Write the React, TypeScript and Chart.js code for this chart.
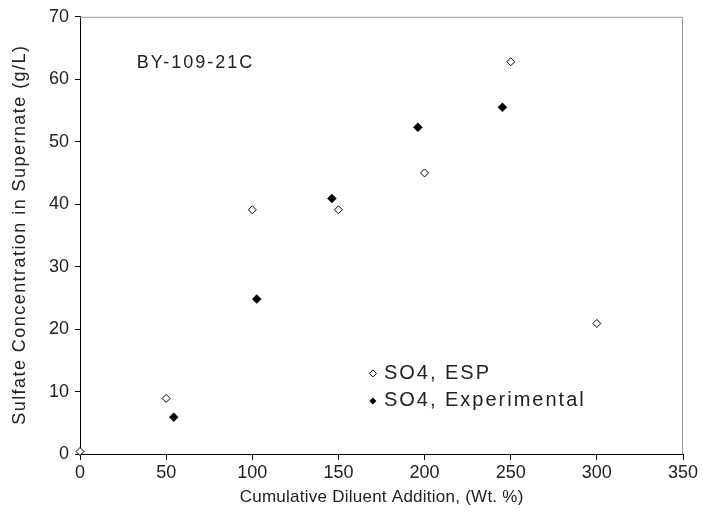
import React, { useEffect, useRef } from "react";
import { Chart, registerables } from "chart.js";

Chart.register(...registerables);

const espX = [0, 50, 100, 150, 200, 250, 300];
const espY = [0.4, 8.9, 39.1, 39.1, 45.0, 62.8, 20.9];
const expX = [54.4, 102.6, 146.2, 196.1, 245.2];
const expY = [5.9, 24.8, 40.9, 52.3, 55.5];
const xTicks = [0, 50, 100, 150, 200, 250, 300, 350];
const yTicks = [0, 10, 20, 30, 40, 50, 60, 70];
const seriesNames = ["SO4, ESP", "SO4, Experimental"];
const sampleLabel = "BY-109-21C";
const xTitle = "Cumulative Diluent Addition, (Wt. %)";
const yTitle = "Sulfate Concentration in Supernate (g/L)";

const FONT = "'Liberation Sans', Arial, sans-serif";
const TXT = "#222";

function spacedText(ctx: any, text: string, x: number, y: number, spacing: number, align: string) {
  ctx.letterSpacing = `${spacing}px`;
  let w = ctx.measureText(text).width;
  let sx = x;
  if (align === "center") sx = x - (w - spacing) / 2;
  ctx.textAlign = "left";
  ctx.fillText(text, sx, y);
  ctx.letterSpacing = "0px";
}

const decorPlugin = {
  id: "decor",
  afterDraw(chart: any) {
    const { ctx, chartArea, scales } = chart;
    ctx.save();
    // top and right border
    ctx.strokeStyle = "#9a9a9a";
    ctx.lineWidth = 1;
    ctx.beginPath();
    ctx.moveTo(chartArea.left, chartArea.top + 0.5);
    ctx.lineTo(chartArea.right - 0.5, chartArea.top + 0.5);
    ctx.lineTo(chartArea.right - 0.5, chartArea.bottom);
    ctx.stroke();

    ctx.fillStyle = TXT;
    ctx.textBaseline = "middle";

    // axis titles
    ctx.font = `17px ${FONT}`;
    spacedText(ctx, xTitle, (chartArea.left + chartArea.right) / 2, 497, 0.25, "center");
    ctx.save();
    ctx.translate(20, (chartArea.top + chartArea.bottom) / 2);
    ctx.rotate(-Math.PI / 2);
    ctx.font = `18px ${FONT}`;
    spacedText(ctx, yTitle, 0, 0, 1.45, "center");
    ctx.restore();

    // sample label
    ctx.font = `18px ${FONT}`;
    spacedText(ctx, sampleLabel, scales.x.getPixelForValue(33), scales.y.getPixelForValue(62.6), 2, "left");

    // legend
    const lx = scales.x.getPixelForValue(170);
    const ly = [scales.y.getPixelForValue(12.9), scales.y.getPixelForValue(8.5)];
    const r = 3.5;
    seriesNames.forEach((name, i) => {
      const cy = ly[i];
      ctx.beginPath();
      ctx.moveTo(lx - r, cy);
      ctx.lineTo(lx, cy - r);
      ctx.lineTo(lx + r, cy);
      ctx.lineTo(lx, cy + r);
      ctx.closePath();
      if (i === 0) {
        ctx.fillStyle = "#fff";
        ctx.fill();
        ctx.strokeStyle = "#000";
        ctx.lineWidth = 1;
        ctx.stroke();
      } else {
        ctx.fillStyle = "#000";
        ctx.fill();
      }
      ctx.fillStyle = TXT;
      ctx.font = `20px ${FONT}`;
      spacedText(ctx, name, lx + 11, cy, 2, "left");
    });
    ctx.restore();
  },
};

export default function App() {
  const ref = useRef<HTMLCanvasElement>(null);
  useEffect(() => {
    document.body.style.margin = "0";
    const canvas = ref.current!;
    const chart = new Chart(canvas, {
      type: "scatter",
      data: {
        datasets: [
          {
            label: seriesNames[0],
            data: espX.map((x, i) => ({ x, y: espY[i] })),
            pointStyle: "rectRot",
            pointRadius: 4,
            pointBackgroundColor: "#fff",
            pointBorderColor: "#000",
            pointBorderWidth: 1,
            clip: false,
          },
          {
            label: seriesNames[1],
            data: expX.map((x, i) => ({ x, y: expY[i] })),
            pointStyle: "rectRot",
            pointRadius: 4.5,
            pointBackgroundColor: "#000",
            pointBorderColor: "#000",
            pointBorderWidth: 0.5,
            clip: false,
          },
        ],
      },
      options: {
        animation: false,
        responsive: false,
        devicePixelRatio: 1,
        layout: { padding: { top: 16, right: 20, left: 0, bottom: 0 } },
        plugins: { legend: { display: false }, tooltip: { enabled: false } },
        scales: {
          x: {
            type: "linear",
            min: 0,
            max: 350,
            afterBuildTicks: (s: any) => {
              s.ticks = xTicks.map((v) => ({ value: v }));
            },
            afterFit: (s: any) => {
              s.height = 61;
            },
            grid: { drawOnChartArea: false, tickLength: 6, color: "#000" },
            border: { color: "#000", width: 1 },
            ticks: { color: TXT, font: { family: FONT, size: 18 }, padding: 2, maxRotation: 0 },
          },
          y: {
            type: "linear",
            min: 0,
            max: 70,
            afterBuildTicks: (s: any) => {
              s.ticks = yTicks.map((v) => ({ value: v }));
            },
            afterFit: (s: any) => {
              s.width = 80;
            },
            grid: { drawOnChartArea: false, tickLength: 5, color: "#000" },
            border: { color: "#000", width: 1 },
            ticks: { color: TXT, font: { family: FONT, size: 18 }, padding: 6 },
          },
        },
      },
      plugins: [decorPlugin],
    } as any);
    return () => chart.destroy();
  }, []);
  return <canvas ref={ref} width={703} height={515} style={{ display: "block" }} />;
}
